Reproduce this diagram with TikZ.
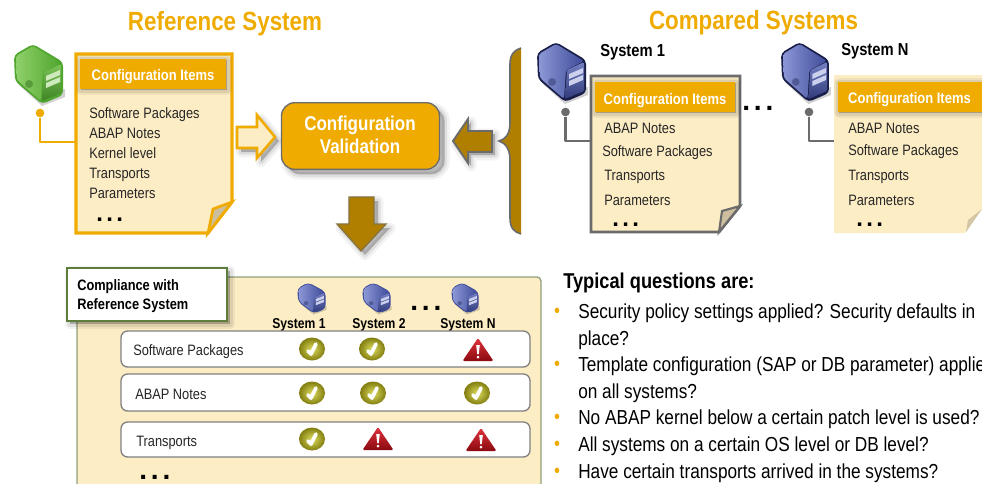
\documentclass[tikz,border=0pt]{standalone}
\usepackage{fontspec}
\setmainfont{Liberation Sans}
\newfontfamily\cf[FakeStretch=0.85]{Liberation Sans}
\newfontfamily\dotf[LetterSpace=14]{Liberation Sans}
\definecolor{sap}{HTML}{F0AB00}
\definecolor{paper}{HTML}{FDEDC5}
\definecolor{bronze}{HTML}{B07F00}
\definecolor{edge}{HTML}{6B6B6B}
\definecolor{foldc}{HTML}{CDBF9E}
\definecolor{grnL}{HTML}{8FD06A}
\definecolor{grnD}{HTML}{4FA52E}
\definecolor{bluL}{HTML}{8C97D6}
\definecolor{bluD}{HTML}{3D4A98}
\definecolor{bluO}{HTML}{1A1F4A}
\definecolor{okL}{HTML}{DEDD5E}
\definecolor{okD}{HTML}{817D10}
\definecolor{redL}{HTML}{E0343C}
\definecolor{redD}{HTML}{8A0A10}
\definecolor{panelE}{HTML}{8FA07A}
\definecolor{tagE}{HTML}{5E7F3B}
\newcommand{\sz}[1]{\cf\fontsize{#1}{#1}\selectfont}
\tikzset{
 softshadow/.style={
   preaction={draw=black,fill=black,opacity=.05,line width=8,line join=round,transform canvas={shift={(#1,#1)}}},
   preaction={draw=black,fill=black,opacity=.08,line width=4,line join=round,transform canvas={shift={(#1,#1)}}},
   preaction={fill=black,opacity=.12,transform canvas={shift={(#1,#1)}}}},
 softshadow/.default=4,
 lbl/.style={anchor=base west,inner sep=0pt,text=black!85,font=\sz{11.3}},
 lblb/.style={anchor=base west,inner sep=0pt,text=black,font=\sz{11.3}\bfseries},
 head/.style={anchor=base,inner sep=0pt,text=white,font=\sz{11.45}\bfseries},
 ttl/.style={anchor=base,inner sep=0pt,text=sap,font=\sz{19.75}\bfseries},
 qtxt/.style={anchor=base west,inner sep=0pt,text=black,font=\sz{15.2}},
 bul/.style={anchor=base,inner sep=0pt,text=sap,font=\sz{15}},
 dotrow/.style={anchor=base west,inner sep=0pt,text=black,font=\dotf\fontsize{18}{18}\selectfont\bfseries},
 blockarrow/.style={line width=1.9,line join=miter},
 conn/.style={line width=1.9,line join=round},
 pin/.style={circle,inner sep=0pt,minimum size=6.5},
 rowbox/.style={draw=black!50,fill=white,rounded corners=5,line width=1},
}
\newcommand{\srv}[8]{% x y w h light dark outline name
 \begin{scope}[shift={(#1,#2)},xscale=#3/47,yscale=#4/60]
  \coordinate (#8) at (24,30);
  \fill[black,opacity=.18] (4,40) -- (27,61) -- (50,52) -- (50,44) -- (27,50) -- cycle;
  \fill[#7,rounded corners=3] (18,-1) -- (-1,10) -- (0,36) -- (27,59) -- (48,50) -- (48,17) -- cycle;
  \shade[rounded corners=2,left color=#5,right color=#6] (18,1) -- (1,11) -- (2,35) -- (26,56) -- (28,27) -- (46,18) -- cycle;
  \shade[rounded corners=1,top color=#5!70!#6,bottom color=#6!80!black] (29,27) -- (46,19) -- (46,48) -- (27,56) -- cycle;
  \fill[#6!70!black,opacity=.5] (14,39) circle (4);
  \fill[#5!45!white] (31,31) -- (45,25) -- (45,30) -- (31,36) -- cycle;
  \fill[#5!45!white] (31,38) -- (45,32) -- (45,37) -- (31,43) -- cycle;
 \end{scope}}
\newcommand{\okay}[3]{%
 \begin{scope}[shift={(#1,#2)}]
  \coordinate (#3) at (0,0);
  \shade[inner color=okL,outer color=okD] (0,0) ellipse (13 and 11.5);
  \draw[white,line width=2.8,line cap=round,line join=round] (-4,2) -- (-1,5) -- (4,-5);
 \end{scope}}
\newcommand{\warn}[3]{%
 \begin{scope}[shift={(#1,#2)}]
  \coordinate (#3) at (0,0);
  \shade[rounded corners=1,top color=redL,bottom color=redD] (0,-12) -- (15.5,11) -- (-15.5,11) -- cycle;
  \fill[white] (-1.8,-5) -- (1.8,-5) -- (.8,4) -- (-.8,4) -- cycle;
  \fill[white] (0,7) circle (1.5);
 \end{scope}}
\begin{document}
\begin{tikzpicture}[x=0.75pt,y=-0.75pt]
\useasboundingbox (0,0) rectangle (982,483);
\fill[white] (0,0) rectangle (982,483);
\clip (0,0) rectangle (982,483);
% titles
\node[ttl] (t1) at (225,30) {Reference System};
\node[ttl] (t2) at (753.5,29) {Compared Systems};
% ---- reference note
\fill[paper] (76,54) -- (232,54) -- (232,202) -- (208,233) -- (76,233) -- cycle;
\draw[sap,line width=2.4] (76,54) -- (232,54) -- (232,202) -- (208,233) -- (76,233) -- cycle;
\filldraw[fill=foldc,draw=sap,line width=2] (208,233) -- (213,209) -- (232,202) -- cycle;
\coordinate (n1) at (76,142);
\fill[softshadow=1,sap] (80,59) rectangle (226,89);
\node[head] (h1) at (153,80) {Configuration Items};
\node[lbl] (a1) at (89,118) {Software Packages};
\node[lbl] (a2) at (89,138) {ABAP Notes};
\node[lbl] (a3) at (89,158) {Kernel level};
\node[lbl] (a4) at (89,178) {Transports};
\node[lbl] (a5) at (89,198) {Parameters};
\node[dotrow] (a6) at (96,221) {...};
\srv{15}{45}{47}{60}{grnL}{grnD}{grnD}{s0}
\node[pin,fill=sap] (d0) at (40,113) {};
\draw[conn,sap] (d0) |- (n1);
% ---- arrow into validation
\draw[softshadow=4,blockarrow,fill=paper,draw=sap] (237,127) -- (257,127) -- (257,115) -- (275,137) -- (257,158) -- (257,148) -- (237,148) -- cycle;
\node[softshadow=5,draw=edge,fill=sap,rounded corners=10,line width=1,minimum width=118.5pt,minimum height=50pt,inner sep=0pt] (v) at (360.5,136) {};
\node[anchor=base,inner sep=0,text=white,font=\sz{15}\bfseries] (v1) at (360,130) {Configuration};
\node[anchor=base,inner sep=0,text=white,font=\sz{15}\bfseries] (v2) at (360,153) {Validation};
\draw[softshadow=3,blockarrow,line width=1.4,fill=bronze,draw=edge] (453,141) -- (468,119) -- (468,131) -- (492,131) -- (492,152) -- (468,152) -- (468,163) -- cycle;
\draw[softshadow=4,line width=1,fill=bronze,draw=edge!60!bronze] (349,197) -- (374,197) -- (374,224) -- (386,224) -- (361,251) -- (337,224) -- (349,224) -- cycle;
% ---- brace
\fill[bronze] (521,48) .. controls (514,50) and (510,55) .. (510,64) -- (510,122) .. controls (510,134) and (506,139) .. (499,141) .. controls (506,143) and (510,150) .. (510,160) -- (510,218) .. controls (510,228) and (514,232) .. (521,234) -- cycle;
\draw[edge,line width=1.2] (521,48) .. controls (514,50) and (510,55) .. (510,64) -- (510,122) .. controls (510,134) and (506,139) .. (499,141) .. controls (506,143) and (510,150) .. (510,160) -- (510,218) .. controls (510,228) and (514,232) .. (521,234);
% ---- system 1
\node[lblb,font=\sz{13}\bfseries] (l1) at (600,56) {System 1};
\fill[paper] (591,76) -- (740,76) -- (740,206) -- (719,232) -- (591,232) -- cycle;
\draw[edge,line width=2.2] (591,76) -- (740,76) -- (740,206) -- (719,232) -- (591,232) -- cycle;
\filldraw[fill=foldc,draw=edge,line width=1.6] (719,232) -- (722,211) -- (740,206) -- cycle;
\coordinate (n2) at (591,141);
\fill[softshadow=1,sap] (595,82) rectangle (735,112);
\node[head] (h2) at (665,104) {Configuration Items};
\node[lbl] (b1) at (604,133) {ABAP Notes};
\node[lbl] (b2) at (602,156) {Software Packages};
\node[lbl] (b3) at (604,180) {Transports};
\node[lbl] (b4) at (604,205) {Parameters};
\node[dotrow] (b5) at (612,226) {...};
\srv{538}{43}{47}{60}{bluL}{bluD}{bluO}{s1}
\node[pin,fill=edge] (d1) at (565.5,112) {};
\draw[conn,edge] (d1) |- (n2);
\node[dotrow,font=\dotf\fontsize{21}{21}\selectfont\bfseries] (gap) at (742,110) {...};
% ---- system N
\node[lblb,font=\sz{13}\bfseries] (l2) at (841,55) {System N};
\fill[paper] (834,75) -- (990,75) -- (990,209) -- (982,209) -- (965,233) -- (834,233) -- cycle;
\fill[foldc!85!paper] (966,232) -- (968,220) -- (982,209) -- cycle;
\coordinate (n3) at (834,141);
\fill[softshadow=1,sap] (838,82) rectangle (990,112);
\node[head] (h3) at (909.5,103) {Configuration Items};
\node[lbl] (c1) at (848,133) {ABAP Notes};
\node[lbl] (c2) at (848,155) {Software Packages};
\node[lbl] (c3) at (848,180) {Transports};
\node[lbl] (c4) at (848,205) {Parameters};
\node[dotrow] (c5) at (856,226) {...};
\srv{782}{43}{46}{60}{bluL}{bluD}{bluO}{s2}
\node[pin,fill=edge] (d2) at (809,112) {};
\draw[conn,edge] (d2) |- (n3);
% ---- compliance panel
\draw[fill=paper,draw=panelE,line width=1,rounded corners=3] (77,277) rectangle (541,495);
\draw[softshadow=3,fill=white,draw=tagE,line width=1.6] (67,268) rectangle (227,321);
\node[lblb,font=\sz{11.3}\bfseries] (p1) at (77,290) {Compliance with};
\node[lblb,font=\sz{11.3}\bfseries] (p2) at (77,309) {Reference System};
\srv{298}{283}{27}{31}{bluL}{bluD}{bluD}{s3}
\srv{363}{283}{27}{31}{bluL}{bluD}{bluD}{s4}
\srv{452}{283}{26}{31}{bluL}{bluD}{bluD}{s5}
\node[anchor=base,inner sep=0,font=\sz{10.7}\bfseries] (q1) at (299,328) {System 1};
\node[anchor=base,inner sep=0,font=\sz{10.7}\bfseries] (q2) at (379,328) {System 2};
\node[anchor=base,inner sep=0,font=\sz{10.7}\bfseries] (qn) at (468,328) {System N};
\node[dotrow,font=\dotf\fontsize{21}{21}\selectfont\bfseries] (q3) at (410,310) {...};
\draw[rowbox] (121,331) rectangle (530,367);
\draw[rowbox] (121,374) rectangle (530,411);
\draw[rowbox] (121,422) rectangle (530,457);
\node[lbl] (r1) at (133,355) {Software Packages};
\node[lbl] (r2) at (135,399) {ABAP Notes};
\node[lbl] (r3) at (136,446) {Transports};
\node[dotrow,font=\dotf\fontsize{21}{21}\selectfont\bfseries] (r4) at (139,479) {...};
\okay{312}{349}{i11}\okay{372}{349}{i12}\warn{478}{350}{i13}
\okay{312}{393}{i21}\okay{373}{393}{i22}\okay{477}{393}{i23}
\okay{312}{439}{i31}\warn{378}{439}{i32}\warn{481}{440}{i33}
% ---- questions
\node[qtxt,font=\sz{16.1}\bfseries] (k0) at (563,288) {Typical questions are:};
\node[bul] (u1) at (557,317) {•};
\node[qtxt] (k1) at (578,318) {Security policy settings applied? Security defaults in};
\node[qtxt] (k2) at (578,345) {place?};
\node[bul] (u2) at (557,370) {•};
\node[qtxt] (k3) at (578,371) {Template configuration (SAP or DB parameter) applied};
\node[qtxt] (k4) at (578,398) {on all systems?};
\node[bul] (u3) at (557,423) {•};
\node[qtxt] (k5) at (578,424) {No ABAP kernel below a certain patch level is used?};
\node[bul] (u4) at (557,450) {•};
\node[qtxt] (k6) at (578,451) {All systems on a certain OS level or DB level?};
\node[bul] (u5) at (557,477) {•};
\node[qtxt] (k7) at (578,478) {Have certain transports arrived in the systems?};
\end{tikzpicture}
\end{document}
